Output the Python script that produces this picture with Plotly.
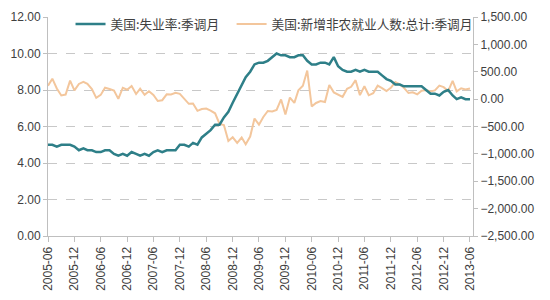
import plotly.graph_objects as go
import pandas as pd

months = pd.date_range("2005-06-01", "2013-06-01", freq="MS")

unemployment = [
    5.0, 5.0, 4.9, 5.0, 5.0, 5.0, 4.9,
    4.7, 4.8, 4.7, 4.7, 4.6, 4.6, 4.7, 4.7, 4.5, 4.4, 4.5, 4.4,
    4.6, 4.5, 4.4, 4.5, 4.4, 4.6, 4.7, 4.6, 4.7, 4.7, 4.7, 5.0,
    5.0, 4.9, 5.1, 5.0, 5.4, 5.6, 5.8, 6.1, 6.1, 6.5, 6.8, 7.3,
    7.8, 8.3, 8.7, 9.0, 9.4, 9.5, 9.5, 9.6, 9.8, 10.0, 9.9, 9.9,
    9.8, 9.8, 9.9, 9.9, 9.6, 9.4, 9.4, 9.5, 9.5, 9.4, 9.8, 9.3,
    9.1, 9.0, 9.0, 9.1, 9.0, 9.1, 9.0, 9.0, 9.0, 8.8, 8.6, 8.5,
    8.3, 8.3, 8.2, 8.2, 8.2, 8.2, 8.2, 8.0, 7.8, 7.8, 7.7, 7.9,
    8.0, 7.7, 7.5, 7.6, 7.5, 7.5,
]

payrolls = [
    246, 373, 195, 67, 84, 337, 159,
    277, 315, 280, 182, 23, 77, 207, 184, 157, 4, 208, 171,
    238, 93, 190, 80, 143, 75, -34, -20, 88, 84, 114, 97,
    15, -86, -80, -214, -182, -172, -210, -259, -452, -474, -765, -697,
    -798, -701, -826, -684, -354, -467, -327, -216, -227, -198, -6, -279,
    28, -69, 163, 243, 522, -133, -70, -34, -52, 257, 123, 88,
    42, 188, 225, 346, 73, 235, 70, 107, 246, 202, 146, 205,
    311, 271, 205, 112, 125, 87, 153, 165, 138, 160, 247, 219,
    148, 332, 142, 199, 176, 195,
]

tick_dates = pd.date_range("2005-06-01", "2013-06-01", freq="6MS")
tick_labels = [d.strftime("%Y-%m") for d in tick_dates]

name_u = "美国:失业率:季调月"
name_p = "美国:新增非农就业人数:总计:季调月"

teal = "#2E7F88"
orange = "#F3C69C"

fig = go.Figure()
fig.add_trace(go.Scatter(x=months, y=payrolls, name=name_p, mode="lines",
                         line=dict(color=orange, width=2), yaxis="y", legend="legend2"))
fig.add_trace(go.Scatter(x=months, y=unemployment, name=name_u, mode="lines",
                         line=dict(color=teal, width=2.5), yaxis="y2", legend="legend"))

font_num = "Liberation Sans"
leg_font = dict(family="Noto Sans CJK SC", size=12.7, color="#404040")
fig.update_layout(
    width=550, height=300,
    margin=dict(l=48, r=77, t=9, b=62),
    paper_bgcolor="white", plot_bgcolor="white",
    font=dict(family=font_num, size=12, color="#404040"),
    showlegend=True,
    legend=dict(orientation="h", x=0.053, y=1.035, xanchor="left", yanchor="top",
                font=leg_font, bgcolor="rgba(0,0,0,0)"),
    legend2=dict(orientation="h", x=0.432, y=1.035, xanchor="left", yanchor="top",
                 font=leg_font, bgcolor="rgba(0,0,0,0)"),
    xaxis=dict(type="date", range=["2005-06-01", "2013-06-22"],
               tickvals=tick_dates, ticktext=tick_labels, tickangle=-90,
               showgrid=False, showline=True, linecolor="#BFBFBF", linewidth=1,
               ticks="outside", ticklen=5, tickcolor="#BFBFBF",
               tickfont=dict(family=font_num, size=12, color="#404040")),
    yaxis=dict(side="right", range=[-2500, 1500], dtick=500, tickformat=",.2f",
               showgrid=False, showline=True, linecolor="#BFBFBF", linewidth=1,
               ticks="outside", ticklen=4, tickcolor="#BFBFBF", zeroline=False,
               tickfont=dict(family=font_num, size=12, color="#404040")),
    yaxis2=dict(side="left", overlaying="y", range=[0, 12], dtick=2, tickformat=".2f",
                showgrid=True, gridcolor="#C8C8C8", griddash="dash", gridwidth=1,
                showline=True, linecolor="#BFBFBF", linewidth=1,
                ticks="outside", ticklen=4, tickcolor="#BFBFBF", zeroline=False,
                tickfont=dict(family=font_num, size=12, color="#404040")),
)

fig.write_html("out.html")
